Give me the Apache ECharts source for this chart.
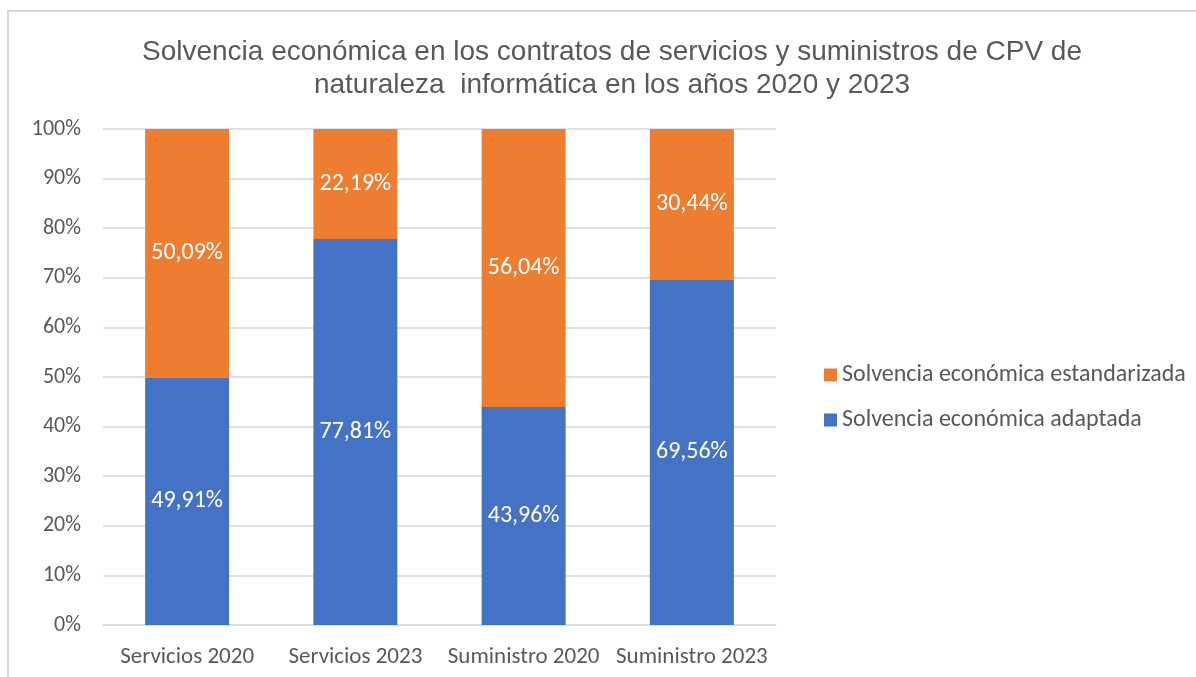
<!DOCTYPE html>
<html><head><meta charset="utf-8">
<script src="https://cdn.jsdelivr.net/npm/echarts@6/dist/echarts.min.js"></script>
<style>
html,body{margin:0;padding:0;background:#fff;}
#frame{position:absolute;left:7px;top:10px;width:1200px;height:700px;border:2px solid #d9d9d9;box-sizing:border-box;}
#c{position:absolute;left:0;top:0;width:1196px;height:677px;}
</style></head>
<body>
<div id="frame"></div>
<div id="c"></div>
<script>
const categories = ['Servicios 2020','Servicios 2023','Suministro 2020','Suministro 2023'];
const adaptada = [49.91, 77.81, 43.96, 69.56];
const estandarizada = [50.09, 22.19, 56.04, 30.44];
const yTicks = [0,10,20,30,40,50,60,70,80,90,100];
const seriesNames = ['Solvencia económica adaptada','Solvencia económica estandarizada'];
const titleLines = ['Solvencia económica en los contratos de servicios y suministros de CPV de','naturaleza  informática en los años 2020 y 2023'];

const labelFont = "Carlito, 'Liberation Sans Narrow', 'DejaVu Sans Condensed', sans-serif";
const fmt = v => v.toFixed(2).replace('.', ',') + '%';
const chart = echarts.init(document.getElementById('c'));
chart.setOption({
  animation:false,
  backgroundColor:'transparent',
  title:{text:titleLines.join('\n'),left:607,top:31,textAlign:'center',
    textStyle:{fontFamily:"'Liberation Sans', Arial, sans-serif",fontSize:28,fontWeight:'normal',color:'#595959',lineHeight:33}},
  grid:{left:103,right:420,top:129,bottom:52},
  legend:{orient:'vertical',left:819,top:358,itemWidth:13,itemHeight:13,itemGap:21,
    data:[seriesNames[1],seriesNames[0]],
    textStyle:{fontFamily:labelFont,fontSize:24,color:'#595959'},icon:'rect'},
  xAxis:{type:'category',data:categories,axisTick:{show:false},
    axisLine:{lineStyle:{color:'#d9d9d9',width:1.5}},
    axisLabel:{fontFamily:labelFont,fontSize:23,color:'#595959',margin:21,interval:0}},
  yAxis:{type:'value',min:0,max:100,interval:10,
    axisLabel:{formatter:v=>v+'%',fontFamily:labelFont,fontSize:22,color:'#595959',margin:22},
    splitLine:{lineStyle:{color:'#d9d9d9',width:1.5}},axisLine:{show:false},axisTick:{show:false}},
  series:[
    {name:seriesNames[0],type:'bar',stack:'s',data:adaptada,barWidth:84,itemStyle:{color:'#4472C4'},
     label:{show:true,position:'inside',formatter:p=>fmt(p.value),color:'#fff',fontFamily:labelFont,fontSize:24}},
    {name:seriesNames[1],type:'bar',stack:'s',data:estandarizada,barWidth:84,itemStyle:{color:'#ED7D31'},
     label:{show:true,position:'inside',formatter:p=>fmt(p.value),color:'#fff',fontFamily:labelFont,fontSize:24}}
  ]
});
</script>
</body></html>
